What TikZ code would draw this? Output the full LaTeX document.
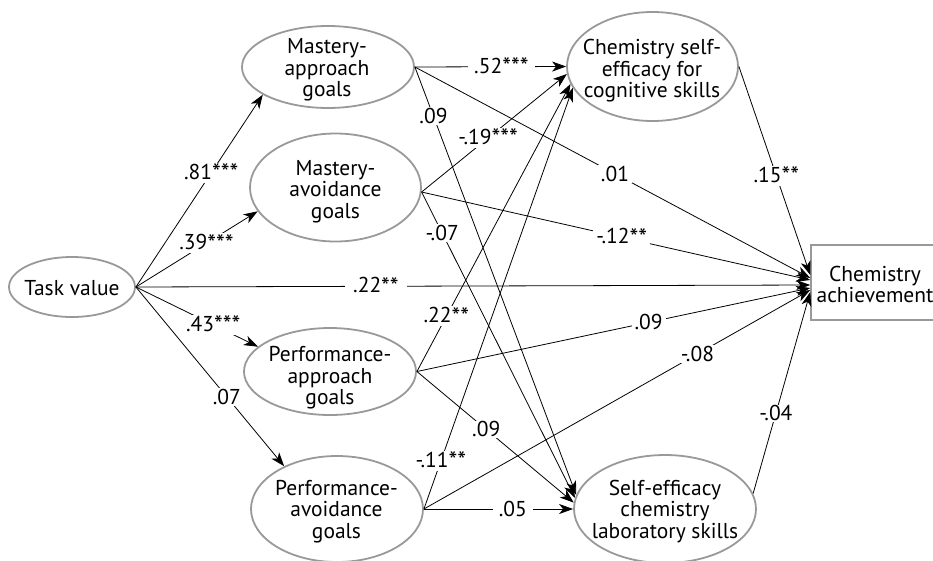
\documentclass[tikz,border=0pt]{standalone}
\usepackage{fontspec}
\setmainfont{PT Sans}
\usetikzlibrary{shapes.geometric,arrows.meta}
\definecolor{ellgray}{HTML}{999999}
\newcommand\sigstars[1]{{\fontsize{25}{25}\selectfont\raisebox{-2.5pt}{#1}}}
\begin{document}
\begin{tikzpicture}[x=1pt,y=-1pt,
  goal/.style={ellipse, draw=ellgray, line width=1.8pt, inner sep=0pt},
  txt/.style={align=center, inner sep=0pt, font=\fontsize{21.5}{21.5}\selectfont},
  conn/.style={draw, line width=0.8pt, -{Stealth[length=14pt,width=10pt,inset=4pt]}},
  lab/.style={fill=white, inner xsep=3pt, inner ysep=1pt, font=\fontsize{21.5}{21.5}\selectfont}
]
\useasboundingbox (0,0) rectangle (933,560);
% nodes
\node[goal, minimum width=126pt, minimum height=60pt] (TV) at (72,287) {};
\node[goal, minimum width=172pt, minimum height=82pt] (MA) at (328,67) {};
\node[goal, minimum width=171pt, minimum height=108pt] (MAv) at (335.5,187.5) {};
\node[goal, minimum width=172pt, minimum height=87pt] (PA) at (330,371.5) {};
\node[goal, minimum width=172pt, minimum height=106pt] (PAv) at (337,509) {};
\node[goal, minimum width=171pt, minimum height=109pt] (SEcog) at (652.5,66.5) {};
\node[goal, minimum width=182pt, minimum height=108pt] (SElab) at (665,509) {};
\node[draw=ellgray, line width=1.5pt, minimum width=128pt, minimum height=75pt] (CA) at (875,282.5) {};
% texts
\node[txt] (tTV) at (72,288) {Task value};
\node[txt] (tMA) at (327,70) {Mastery-\\approach\\goals};
\node[txt] (tMAv) at (335.5,191.5) {Mastery-\\avoidance\\goals};
\node[txt] (tPA) at (330,378) {Performance-\\approach\\goals};
\node[txt] (tPAv) at (336.5,511.5) {Performance-\\avoidance\\goals};
\node[txt] (tSEcog) at (652,71) {Chemistry self-\\efficacy for\\cognitive skills};
\node[txt] (tSElab) at (665,511.5) {Self-efficacy\\chemistry\\laboratory skills};
\node[txt] (tCA) at (875,284.5) {Chemistry\\achievement};
% connectors from Task value
\draw[conn] (TV.east) -- node[lab,pos=0.594]{.81\sigstars{***}} (MA.203);
\draw[conn] (TV.east) -- node[lab,pos=0.58]{.39\sigstars{***}} (MAv.197);
\draw[conn] (TV.east) -- node[lab,pos=0.634]{.43\sigstars{***}} (PA.161.6);
\draw[conn] (TV.east) -- node[lab,pos=0.613]{.07} (PAv.141.8);
\draw[conn] (TV.east) -- node[lab,pos=0.356,inner xsep=8pt]{.22\sigstars{**}} ([yshift=-2.5pt]CA.west);
% from Mastery-approach
\draw[conn] (MA.east) -- node[lab,pos=0.572,inner xsep=6pt]{.52\sigstars{***}} (SEcog.west);
\draw[conn] (MA.east) -- node[lab,pos=0.115]{.09} (SElab.171);
\draw[conn] (MA.east) -- node[lab,pos=0.506]{.01} ([yshift=4.5pt]CA.west);
% from Mastery-avoidance
\draw[conn] (MAv.-3) -- node[lab,pos=0.458]{-.19\sigstars{***}} (SEcog.185);
\draw[conn] (MAv.-3) -- node[lab,pos=0.134]{-.07} (SElab.173);
\draw[conn] (MAv.-3) -- node[lab,pos=0.515]{-.12\sigstars{**}} ([yshift=2.5pt]CA.west);
% from Performance-approach
\draw[conn] (PA.east) -- node[lab,pos=0.192]{.22\sigstars{**}} (SEcog.192);
\draw[conn] (PA.east) -- node[lab,pos=0.442]{.09} (SElab.176);
\draw[conn] (PA.east) -- node[lab,pos=0.589]{.09} ([yshift=-5.5pt]CA.west);
% from Performance-avoidance
\draw[conn] (PAv.east) -- node[lab,pos=0.114]{-.11\sigstars{**}} (SEcog.195);
\draw[conn] (PAv.east) -- node[lab,pos=0.596,inner xsep=6pt]{.05} (SElab.west);
\draw[conn] (PAv.east) -- node[lab,pos=0.708]{-.08} ([yshift=-7.5pt]CA.west);
% to achievement
\draw[conn] (SEcog.east) -- node[lab,pos=0.524]{.15\sigstars{**}} ([yshift=7.5pt]CA.west);
\draw[conn] (SElab.10) -- node[lab,pos=0.398]{-.04} ([yshift=-9.5pt]CA.west);
\end{tikzpicture}
\end{document}
